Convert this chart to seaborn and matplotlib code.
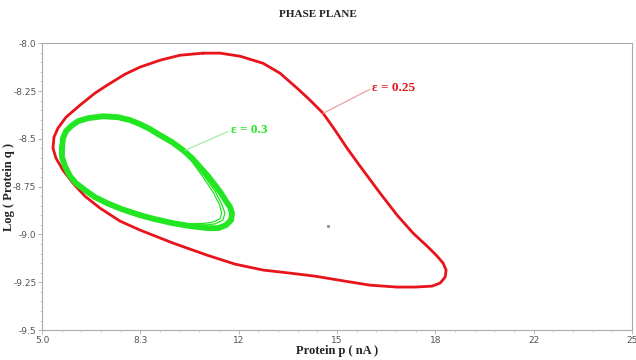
import numpy as np
import pandas as pd
import matplotlib
matplotlib.use("Agg")
import matplotlib.pyplot as plt
import seaborn as sns
from matplotlib.ticker import FixedLocator, AutoMinorLocator

# ---- data ----
red_p = [10.458, 11.034, 11.712, 12.492, 13.068, 13.644, 14.085, 14.525, 14.932, 15.339, 15.780,
         16.458, 17.034, 17.576, 18.085, 18.390, 18.593, 18.695, 18.661, 18.492, 18.220, 17.644,
         17.034, 16.119, 15.271, 14.254, 13.407, 12.492, 11.542, 10.593, 9.441, 8.322, 7.644,
         6.966, 6.458, 6.051, 5.712, 5.475, 5.373, 5.407, 5.542, 5.814, 6.288, 6.797, 7.203,
         7.814, 8.322, 9.000, 9.678, 10.458]
red_q = [-8.052, -8.052, -8.068, -8.105, -8.157, -8.235, -8.298, -8.366, -8.455, -8.549, -8.643,
         -8.784, -8.899, -8.993, -9.066, -9.113, -9.150, -9.186, -9.223, -9.254, -9.270, -9.275,
         -9.275, -9.265, -9.244, -9.218, -9.202, -9.186, -9.155, -9.108, -9.045, -8.977, -8.930,
         -8.862, -8.800, -8.732, -8.664, -8.601, -8.549, -8.491, -8.444, -8.387, -8.324, -8.261, -8.220,
         -8.162, -8.125, -8.089, -8.063, -8.052]

green_p = [5.678, 5.712, 5.814, 5.983, 6.220, 6.559, 7.068, 7.576, 7.983, 8.322, 8.661, 9.000,
           9.407, 9.780, 10.085, 10.356, 10.627, 10.864, 11.068, 11.237, 11.373, 11.441, 11.407,
           11.237, 10.966, 10.627, 10.017, 9.441, 8.831, 8.322, 7.712, 7.203, 6.797, 6.458,
           6.153, 5.949, 5.780, 5.678, 5.678]
green_q = [-8.549, -8.497, -8.460, -8.434, -8.408, -8.392, -8.382, -8.387, -8.402, -8.423, -8.449, -8.481,
           -8.517, -8.559, -8.601, -8.648, -8.695, -8.742, -8.784, -8.826, -8.857, -8.889, -8.925,
           -8.951, -8.967, -8.967, -8.956, -8.941, -8.920, -8.899, -8.868, -8.836, -8.805, -8.768,
           -8.732, -8.695, -8.643, -8.596, -8.549]
# inner strands of the green trajectory near its right tip
green2_p = [9.780, 10.085, 10.525, 10.864, 11.102, 11.200, 11.130, 10.864, 10.525, 10.017]
green2_q = [-8.566, -8.612, -8.700, -8.774, -8.845, -8.889, -8.925, -8.945, -8.950, -8.948]
green3_p = [9.780, 10.085, 10.480, 10.800, 11.020, 11.090, 11.030, 10.800, 10.480, 10.017]
green3_q = [-8.570, -8.620, -8.705, -8.780, -8.845, -8.889, -8.918, -8.935, -8.942, -8.944]

labels = ["ε = 0.25", "ε = 0.3"]
label_pos = [(16.20, -8.235), (11.40, -8.455)]
leader_from = [(14.53, -8.366), (9.85, -8.560)]
leader_to = [(16.10, -8.242), (11.30, -8.462)]
dot = (14.69, -8.957)

xticks = [5.0, 8.333, 11.667, 15.0, 18.333, 21.667, 25.0]
xtick_labels = ["5.0", "8.3", "12", "15", "18", "22", "25"]
yticks = [-8.0, -8.25, -8.5, -8.75, -9.0, -9.25, -9.5]
ytick_labels = ["-8.0", "-8.25", "-8.5", "-8.75", "-9.0", "-9.25", "-9.5"]

sns.set_theme(style="white")
plt.rcParams['font.family'] = ['DejaVu Sans']

red_df = pd.DataFrame({"p": red_p, "q": red_q})
green_df = pd.DataFrame({"p": green_p, "q": green_q})

fig = plt.figure(figsize=(6.36, 3.6), dpi=100)
ax = fig.add_axes([0.066, 0.083, 0.928, 0.797])

RED = "#e8141c"
GREEN = "#22e622"

sns.lineplot(data=red_df, x="p", y="q", sort=False, estimator=None, color=RED, lw=2.0,
             solid_joinstyle="round", ax=ax)
sns.lineplot(data=green_df, x="p", y="q", sort=False, estimator=None, color=GREEN, lw=4.2,
             solid_joinstyle="round", ax=ax)
for gp, gq in [(green2_p, green2_q), (green3_p, green3_q)]:
    sns.lineplot(data=pd.DataFrame({"p": gp, "q": gq}), x="p", y="q", sort=False,
                 estimator=None, color=GREEN, lw=0.9, ax=ax)

ax.plot(*dot, marker="s", ms=1.2, color="#999999")

colors = [RED, GREEN]
leader_colors = ["#f0a0a0", "#a0eea0"]
for lab, pos, f, t, c, lc in zip(labels, label_pos, leader_from, leader_to, colors, leader_colors):
    ax.plot([f[0], t[0]], [f[1], t[1]], color=lc, lw=0.9)
    ax.text(pos[0], pos[1], lab, color=c, fontsize=9.5, fontweight="bold",
            family="Liberation Serif", va="center", ha="left")

ax.set_xlim(5.0, 25.0)
ax.set_ylim(-9.5, -8.0)
ax.xaxis.set_major_locator(FixedLocator(xticks))
ax.set_xticklabels(xtick_labels)
ax.yaxis.set_major_locator(FixedLocator(yticks))
ax.set_yticklabels(ytick_labels)
ax.xaxis.set_minor_locator(AutoMinorLocator(5))
ax.yaxis.set_minor_locator(AutoMinorLocator(5))
ax.tick_params(axis="both", which="major", direction="out", length=3, width=0.6,
               color="#aaaaaa", labelsize=6.5, labelcolor="#555555", pad=1,
               bottom=True, left=True)
ax.tick_params(axis="both", which="minor", direction="out", length=1.5, width=0.5,
               color="#bbbbbb", bottom=True, left=True)
for s in ax.spines.values():
    s.set_color("#aaaaaa")
    s.set_linewidth(0.8)

ax.set_xlabel("Protein p ( nA )", family="Liberation Serif", fontweight="bold",
              fontsize=9, color="#222222", labelpad=0)
ax.set_ylabel("Log ( Protein q )", family="Liberation Serif", fontweight="bold",
              fontsize=9, color="#222222")
ax.yaxis.set_label_coords(-0.046, 0.5)
fig.text(0.5, 0.96, "PHASE PLANE", ha="center", va="center", family="Liberation Serif",
         fontweight="bold", fontsize=8, color="#222222")

fig.savefig("out.png", dpi=100)
